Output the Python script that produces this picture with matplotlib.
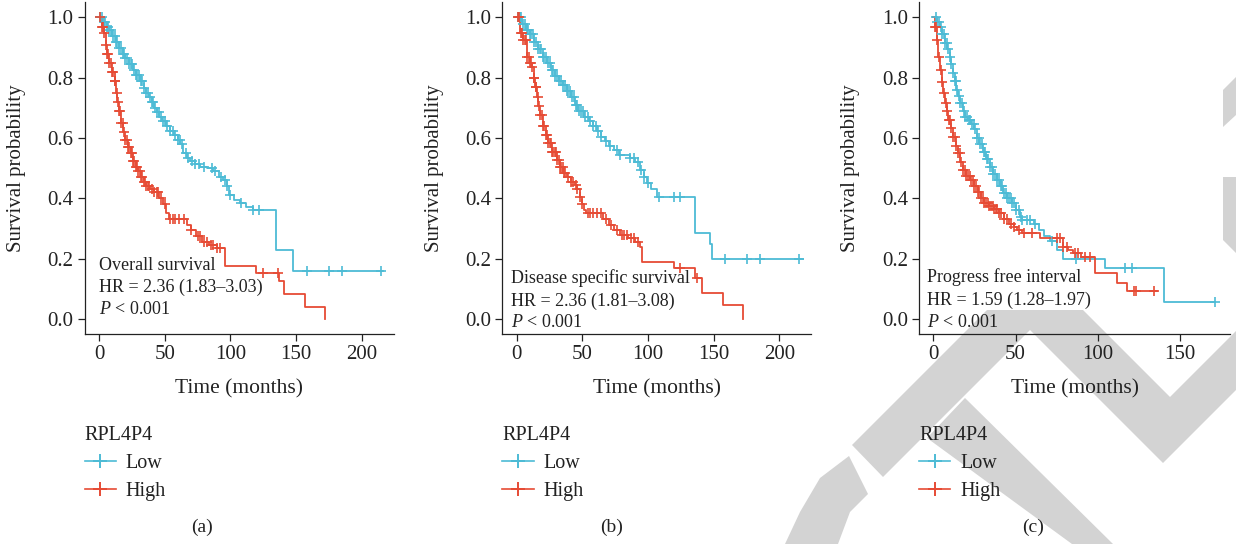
import numpy as np
import matplotlib
matplotlib.use("Agg")
import matplotlib.pyplot as plt
from matplotlib.lines import Line2D
from matplotlib.patches import Polygon

plt.rcParams['font.family'] = ['Liberation Serif', 'DejaVu Serif']
plt.rcParams['mathtext.fontset'] = 'custom'
plt.rcParams['mathtext.rm'] = 'Liberation Serif'
plt.rcParams['mathtext.it'] = 'Liberation Serif:italic'

C_LOW = '#4DBBD5'
C_HIGH = '#E64B35'
INK = '#222222'

# ---- (a) overall survival ----
a_low_t = [0, 3, 6, 8, 10, 13, 15, 18, 20, 23, 26, 28, 31, 34, 36, 38, 40, 42, 44, 46, 48, 51, 54, 57, 60,
           62, 64, 67, 69, 73, 77, 82, 87, 91, 94, 97, 99, 103, 107, 112, 117, 134.5, 147.5]
a_low_s = [1.0, 0.985, 0.97, 0.96, 0.94, 0.92, 0.90, 0.88, 0.865, 0.845, 0.825, 0.81, 0.79, 0.765, 0.75,
           0.735, 0.72, 0.70, 0.685, 0.67, 0.655, 0.64, 0.625, 0.61, 0.595, 0.58, 0.55, 0.535, 0.525, 0.515,
           0.505, 0.50, 0.49, 0.47, 0.46, 0.44, 0.41, 0.395, 0.385, 0.37, 0.36, 0.23, 0.16]
a_low_end = 216
a_low_cens = [1, 2.5, 3.5, 4.5, 6, 7, 8, 9.5, 10.5, 12, 13, 14, 15.5, 16.5, 18, 19, 20, 21.5, 23, 24, 25,
              26.5, 28, 29, 30.5, 32, 33, 34.5, 36, 37, 38.5, 40, 41, 42.5, 44, 45.5, 47, 48.5, 50, 52, 54,
              56, 58, 60, 61.5, 63, 66, 68, 70.5, 73, 76, 80, 86, 88, 93, 95.5, 97.5, 100, 108, 117, 122,
              158, 175, 184.5, 214.5]
a_high_t = [0, 2, 3.5, 5, 6, 8, 10, 12, 13, 14, 15, 17, 18.5, 20, 22, 24, 26, 28, 30, 32, 34, 36, 39, 42,
            46, 49, 51, 53, 67, 70, 74, 78, 84, 90, 95.8, 119.5, 137, 141, 157, 172]
a_high_s = [1.0, 0.97, 0.95, 0.91, 0.88, 0.85, 0.82, 0.79, 0.75, 0.72, 0.69, 0.65, 0.62, 0.595, 0.57, 0.55,
            0.525, 0.505, 0.49, 0.47, 0.455, 0.44, 0.43, 0.42, 0.40, 0.38, 0.35, 0.33, 0.31, 0.295, 0.275,
            0.255, 0.245, 0.235, 0.177, 0.154, 0.125, 0.083, 0.041, 0.0]
a_high_end = 172
a_high_cens = [1, 2, 3, 4, 5, 6, 7, 8, 9, 10, 11, 12, 12.5, 13.5, 14.5, 15.5, 16, 17, 18, 19, 20, 21, 22,
               23, 24, 25, 26, 27, 28, 29, 30, 31, 32, 33, 34, 35, 36, 37, 38, 40, 42, 44, 45, 47, 50, 54,
               56, 58, 61, 65, 70, 75, 77, 80, 82, 85, 87, 90, 92, 125, 136]

# ---- (b) disease specific survival ----
b_low_t = [0, 4, 7, 10, 13, 16, 20, 23, 26, 29, 32, 35, 38, 41, 44, 47, 51, 55, 58, 61, 64, 67, 70, 74, 78,
           86, 90, 94, 97, 99, 102, 107, 136, 147.5, 148.5]
b_low_s = [1.0, 0.98, 0.96, 0.945, 0.92, 0.895, 0.87, 0.85, 0.825, 0.805, 0.79, 0.775, 0.755, 0.735, 0.71,
           0.69, 0.67, 0.655, 0.64, 0.625, 0.605, 0.59, 0.575, 0.56, 0.545, 0.535, 0.52, 0.495, 0.47, 0.45,
           0.43, 0.405, 0.284, 0.25, 0.20]
b_low_end = 218
b_low_cens = [1, 2.5, 3.5, 5, 6, 7.5, 8.5, 10, 11, 12.5, 13.5, 15, 16, 17.5, 18.5, 20, 21, 22.5, 24, 25,
              26.5, 28, 29.5, 31, 32, 33.5, 35, 36.5, 38, 39, 40.5, 42, 43.5, 45, 46, 47.5, 49, 50.5, 52,
              54, 56, 58, 60, 62, 64, 68, 71, 76, 79, 86, 89, 92, 95, 97, 100, 108, 119.5, 124.5, 159,
              175.5, 185.5, 214.8]
b_high_t = [0, 2.5, 5, 7.5, 10, 11.5, 13, 14, 15.5, 16.5, 18, 20, 22, 24, 27, 30.5, 33, 35.5, 38, 41, 44,
            46, 48, 50, 51, 53, 66, 70, 74, 79, 85, 90, 94, 95.5, 120, 136, 141, 157, 172.5]
b_high_s = [1.0, 0.95, 0.925, 0.87, 0.85, 0.835, 0.80, 0.77, 0.735, 0.705, 0.675, 0.64, 0.61, 0.585, 0.555,
            0.527, 0.505, 0.485, 0.47, 0.455, 0.445, 0.43, 0.405, 0.38, 0.362, 0.35, 0.33, 0.31, 0.295,
            0.28, 0.27, 0.255, 0.24, 0.19, 0.168, 0.135, 0.085, 0.046, 0.0]
b_high_end = 172.5
b_high_cens = [1, 2, 3, 4, 5, 6, 7, 8, 9, 10, 11, 12, 13, 13.5, 14.5, 15, 16, 17, 18, 19, 20, 21, 22, 23,
               24, 25, 26, 27, 28, 29, 30, 31, 32, 33, 34, 35, 36, 37, 39, 41, 43, 45, 46, 48, 50, 54, 56,
               58, 61, 64, 68, 72, 76, 80, 82, 84, 87, 89, 92, 124, 137]

# ---- (c) progress free interval ----
c_low_t = [0, 2.5, 4, 5.5, 7, 8.5, 10, 11, 12, 13, 14, 15, 16, 18, 19.5, 21, 23, 25, 26.5, 28, 30, 32,
           34.5, 36.5, 38.5, 40.5, 42.5, 45, 48, 50, 52.7, 54, 61, 64, 67, 71, 75, 79, 104.5, 140.5]
c_low_s = [1.0, 0.985, 0.97, 0.945, 0.915, 0.895, 0.87, 0.845, 0.815, 0.79, 0.76, 0.74, 0.715, 0.69, 0.671,
           0.66, 0.645, 0.63, 0.60, 0.58, 0.555, 0.53, 0.505, 0.48, 0.46, 0.44, 0.417, 0.40, 0.384, 0.36,
           0.339, 0.328, 0.315, 0.295, 0.275, 0.26, 0.23, 0.198, 0.168, 0.055]
c_low_end = 171.5
c_low_cens = [1.5, 2.5, 3.5, 4.5, 5.5, 6.5, 7, 8, 9, 10, 11, 12, 13, 13.5, 14.5, 15.5, 16.5, 17.5, 18.5,
              19.5, 20.5, 21.5, 22.5, 23.5, 24.5, 25.5, 26.5, 27.5, 28.5, 29.5, 30.5, 31.5, 32.5, 33.5,
              34.5, 35.5, 36.5, 37.5, 38.5, 40, 41, 42, 43, 44, 45, 46, 47, 48, 49, 50, 52, 53, 54, 57,
              59, 62, 72, 87, 116.5, 121, 171]
c_high_t = [0, 1, 2, 3, 4, 5, 6, 7, 8, 9, 10.5, 12, 13.5, 15, 16.5, 18, 20, 22.5, 25, 27, 29, 31, 34, 37,
            40, 43, 46, 49, 51, 54, 65, 79, 82, 85, 90, 98.3, 111.5, 117.6]
c_high_s = [1.0, 0.97, 0.925, 0.87, 0.826, 0.785, 0.75, 0.715, 0.69, 0.66, 0.635, 0.605, 0.575, 0.55, 0.52,
            0.495, 0.475, 0.46, 0.44, 0.42, 0.40, 0.385, 0.375, 0.365, 0.35, 0.33, 0.315, 0.305, 0.295,
            0.284, 0.268, 0.24, 0.23, 0.218, 0.207, 0.152, 0.12, 0.091]
c_high_end = 135.8
c_high_cens = [1, 1.5, 2.5, 3.5, 4.5, 5.5, 6.5, 7.5, 8.5, 9.5, 10, 11, 12, 13, 14, 15, 16, 17, 18, 19, 20,
               21, 22, 23, 24, 25, 26, 27, 28, 29, 30, 31, 32, 33, 34, 35, 36, 37, 38, 39, 40, 41, 43, 45,
               47, 49, 52, 55, 60, 75, 77, 79, 81, 86, 88, 92, 95, 122, 123, 134]

titles = ['Overall survival', 'Disease specific survival', 'Progress free interval']
hr_text = ['HR = 2.36 (1.83\u20133.03)', 'HR = 2.36 (1.81\u20133.08)', 'HR = 1.59 (1.28\u20131.97)']
p_text = '$P$ < 0.001'
x_ticks = [[0, 50, 100, 150, 200], [0, 50, 100, 150, 200], [0, 50, 100, 150]]
y_ticks = [0.0, 0.2, 0.4, 0.6, 0.8, 1.0]
gene = 'RPL4P4'
groups = ['Low', 'High']
panel_tags = ['(a)', '(b)', '(c)']

W, H = 1236, 544
fig = plt.figure(figsize=(W / 100, H / 100), dpi=100)
fig.patch.set_facecolor('white')


def px_box(left, top, width, height):
    return [left / W, 1 - (top + height) / H, width / W, height / H]


# axes frames in pixels
boxes = [px_box(84.5, 2.4, 309, 331.6), px_box(502.3, 2.4, 308.5, 331.6), px_box(919.2, 2.4, 310.7, 331.6)]
xlims = [(-11, 224), (-11, 224), (-8.6, 180.3)]
text_pos = [(0, [0.176, 0.106, 0.030]), (-4.6, [0.136, 0.057, -0.013]), (-3.6, [0.138, 0.063, -0.012])]
tag_x = [202, 612, 1033]

# grey watermark strokes (figure pixels, y measured from top)
marks = [
    [(852, 445), (883, 477), (1050, 310), (987, 310)],
    [(927, 438), (965, 398), (1113, 544), (1072, 544)],
    [(1010, 310), (1083, 310), (1170, 397), (1236, 331), (1236, 390), (1163, 463)],
    [(785, 544), (800, 512), (820, 478), (849, 456), (868, 494), (850, 512), (838, 544)],
    [(1223, 90), (1236, 77), (1236, 115), (1223, 127)],
    [(1223, 177), (1236, 177), (1236, 253), (1223, 240)],
]
for m in marks:
    pts = [(x / W, 1 - y / H) for x, y in m]
    fig.patches.append(Polygon(pts, closed=True, transform=fig.transFigure, facecolor='#d3d3d3',
                               edgecolor='none', zorder=-5))


def km(ax, t, s, end, cens, color):
    tt = list(t) + [end]
    ss = list(s) + [s[-1]]
    ax.step(tt, ss, where='post', color=color, lw=1.3, zorder=3)
    idx = np.searchsorted(np.array(t), np.array(cens), side='right') - 1
    ax.plot(cens, np.array(s)[idx], ls='none', marker='+', ms=7, mew=1.2, color=color, zorder=4)


curves = [
    (a_low_t, a_low_s, a_low_end, a_low_cens, a_high_t, a_high_s, a_high_end, a_high_cens),
    (b_low_t, b_low_s, b_low_end, b_low_cens, b_high_t, b_high_s, b_high_end, b_high_cens),
    (c_low_t, c_low_s, c_low_end, c_low_cens, c_high_t, c_high_s, c_high_end, c_high_cens),
]

for i in range(3):
    ax = fig.add_axes(boxes[i])
    ax.set_facecolor('none')
    lt, ls_, le, lc, ht, hs, he, hc = curves[i]
    km(ax, lt, ls_, le, lc, C_LOW)
    km(ax, ht, hs, he, hc, C_HIGH)

    ax.set_xlim(*xlims[i])
    ax.set_ylim(-0.05, 1.05)
    ax.set_xticks(x_ticks[i])
    ax.set_yticks(y_ticks)
    ax.set_yticklabels(['%.1f' % v for v in y_ticks])
    for sp in ['top', 'right']:
        ax.spines[sp].set_visible(False)
    for sp in ['left', 'bottom']:
        ax.spines[sp].set_color(INK)
        ax.spines[sp].set_linewidth(0.9)
    ax.tick_params(length=5, width=0.9, color=INK, labelcolor=INK, labelsize=15, pad=3)

    ax.text(-68 / 309, 0.5, 'Survival probability', transform=ax.transAxes, rotation=90,
            ha='center', va='center', fontsize=15, color=INK)
    ax.text(0.5, -0.166, 'Time (months)', transform=ax.transAxes, ha='center', va='center',
            fontsize=15.5, color=INK)

    tx, ty = text_pos[i]
    for txt, yy in zip([titles[i], hr_text[i], p_text], ty):
        ax.text(tx, yy, txt, ha='left', va='center', fontsize=13, color=INK, zorder=5)

    handles = [Line2D([], [], color=C_LOW, lw=1.2, marker='+', ms=10, mew=1.4),
               Line2D([], [], color=C_HIGH, lw=1.2, marker='+', ms=10, mew=1.4)]
    leg = ax.legend(handles, groups, title=gene, loc='upper left', bbox_to_anchor=(0.0, -0.276),
                    frameon=False, fontsize=14.5, title_fontsize=14.5, alignment='left', borderpad=0,
                    borderaxespad=0, handlelength=1.55, handletextpad=0.5, labelspacing=0.45)
    for t in leg.get_texts():
        t.set_color(INK)
    leg.get_title().set_color(INK)

    fig.text(tag_x[i] / W, 1 - 527 / H, panel_tags[i], ha='center', va='center', fontsize=14, color=INK)

fig.savefig('out.png', dpi=100)
